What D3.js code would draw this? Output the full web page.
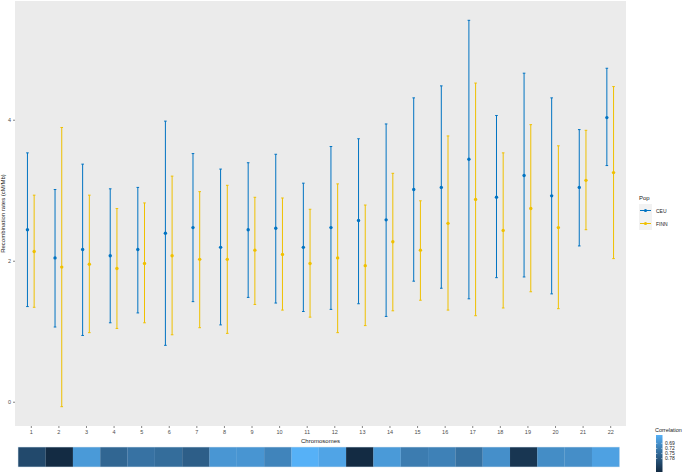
<!DOCTYPE html>
<html>
<head>
<meta charset="utf-8">
<script src="https://cdn.jsdelivr.net/npm/d3@7/dist/d3.min.js"></script>
<style>
  html, body { margin: 0; padding: 0; background: #ffffff; }
  svg { display: block; font-family: "Liberation Sans", Arial, sans-serif; }
</style>
</head>
<body>
<div id="chart"></div>
<script>
// ---------------- data ----------------
const chromosomes = ["1","2","3","4","5","6","7","8","9","10","11","12","13","14","15","16","17","18","19","20","21","22"];
const populations = ["CEU", "FINN"];

const ceuMean  = [2.44, 2.04, 2.16, 2.07, 2.16, 2.39, 2.47, 2.19, 2.44, 2.46, 2.19, 2.47, 2.57, 2.58, 3.01, 3.04, 3.44, 2.90, 3.21, 2.92, 3.04, 4.03];
const ceuLow   = [1.35, 1.06, 0.94, 1.12, 1.26, 0.80, 1.42, 1.09, 1.48, 1.40, 1.28, 1.31, 1.39, 1.21, 1.71, 1.61, 1.46, 1.76, 1.77, 1.53, 2.21, 3.35];
const ceuHigh  = [3.53, 3.01, 3.37, 3.02, 3.04, 3.98, 3.52, 3.30, 3.39, 3.51, 3.10, 3.62, 3.73, 3.94, 4.31, 4.48, 5.41, 4.06, 4.66, 4.31, 3.86, 4.73];

const finnMean = [2.13, 1.91, 1.95, 1.89, 1.96, 2.07, 2.02, 2.02, 2.15, 2.09, 1.96, 2.04, 1.93, 2.27, 2.15, 2.53, 2.87, 2.43, 2.74, 2.47, 3.14, 3.25];
const finnLow  = [1.34, -0.07, 0.98, 1.04, 1.12, 0.95, 1.05, 0.97, 1.38, 1.30, 1.20, 0.98, 1.08, 1.29, 1.44, 1.30, 1.22, 1.33, 1.56, 1.32, 2.44, 2.03];
const finnHigh = [2.93, 3.89, 2.93, 2.74, 2.82, 3.20, 2.98, 3.07, 2.90, 2.89, 2.73, 3.09, 2.79, 3.24, 2.85, 3.77, 4.52, 3.53, 3.93, 3.63, 3.85, 4.47];

const correlation = [0.805, 0.860, 0.675, 0.757, 0.737, 0.746, 0.770, 0.680, 0.682, 0.708, 0.640, 0.659, 0.860, 0.675, 0.721, 0.713, 0.739, 0.691, 0.840, 0.695, 0.693, 0.664];

const yTicks = [0, 2, 4];
const corrTicks = [0.69, 0.72, 0.75, 0.78];

// ---------------- build rows ----------------
const rows = [];
chromosomes.forEach((c, i) => {
  rows.push({chr: c, pop: "CEU",  mean: ceuMean[i],  low: ceuLow[i],  high: ceuHigh[i]});
  rows.push({chr: c, pop: "FINN", mean: finnMean[i], low: finnLow[i], high: finnHigh[i]});
});

// ---------------- layout ----------------
const W = 685, H = 474;
const panel = {left: 15, right: 626, top: 1, bottom: 426};

const svg = d3.select("#chart").append("svg").attr("width", W).attr("height", H);

const x = d3.scaleBand().domain(chromosomes)
  .range([panel.left, panel.right]).paddingOuter(0.1).paddingInner(0);
// ggplot discrete expansion of 0.6 units each side
const step = (panel.right - panel.left) / (chromosomes.length + 1.2);
const xc = d3.scalePoint().domain(chromosomes)
  .range([panel.left + 0.6 * step, panel.right - 0.6 * step]);

const yExtent = [d3.min([...ceuLow, ...finnLow]), d3.max([...ceuHigh, ...finnHigh])];
const pad = (yExtent[1] - yExtent[0]) * 0.05;
const y = d3.scaleLinear().domain([yExtent[0] - pad, yExtent[1] + pad]).range([panel.bottom, panel.top]);

const dodge = d3.scalePoint().domain(populations).range([-3.35, 3.35]);
const color = d3.scaleOrdinal().domain(populations).range(["#0073C2", "#EFC000"]);

// panel background
svg.append("rect")
  .attr("x", panel.left).attr("y", panel.top)
  .attr("width", panel.right - panel.left).attr("height", panel.bottom - panel.top)
  .attr("fill", "#EBEBEB");

// ---------------- axes ----------------
const yAxis = d3.axisLeft(y).tickValues(yTicks).tickSize(2).tickPadding(2).tickFormat(d3.format("d"));
const gy = svg.append("g").attr("transform", `translate(${panel.left},0)`).call(yAxis);
gy.select(".domain").remove();
gy.selectAll(".tick line").attr("stroke", "#333333").attr("stroke-width", 0.6);
gy.selectAll(".tick text").attr("fill", "#4d4d4d").attr("font-size", 5.5);

const xAxis = d3.axisBottom(xc).tickSize(2).tickPadding(2);
const gx = svg.append("g").attr("transform", `translate(0,${panel.bottom})`).call(xAxis);
gx.select(".domain").remove();
gx.selectAll(".tick line").attr("stroke", "#333333").attr("stroke-width", 0.6);
gx.selectAll(".tick text").attr("fill", "#4d4d4d").attr("font-size", 5.5);

svg.append("text")
  .attr("x", (panel.left + panel.right) / 2).attr("y", 443)
  .attr("text-anchor", "middle").attr("font-size", 6).attr("fill", "#222")
  .text("Chromosomes");

svg.append("text")
  .attr("transform", `translate(5,${(panel.top + panel.bottom) / 2}) rotate(-90)`)
  .attr("text-anchor", "middle").attr("font-size", 6).attr("fill", "#222")
  .text("Recombination rates (cM/Mb)");

// ---------------- error bars ----------------
const capW = 1.3;
const g = svg.append("g");
const eb = g.selectAll("g.eb").data(rows).join("g").attr("class", "eb");
const cx = d => xc(d.chr) + dodge(d.pop);
eb.append("line")
  .attr("x1", cx).attr("x2", cx)
  .attr("y1", d => y(d.low)).attr("y2", d => y(d.high))
  .attr("stroke", d => color(d.pop)).attr("stroke-width", 1);
eb.append("line")
  .attr("x1", d => cx(d) - capW).attr("x2", d => cx(d) + capW)
  .attr("y1", d => y(d.high)).attr("y2", d => y(d.high))
  .attr("stroke", d => color(d.pop)).attr("stroke-width", 1);
eb.append("line")
  .attr("x1", d => cx(d) - capW).attr("x2", d => cx(d) + capW)
  .attr("y1", d => y(d.low)).attr("y2", d => y(d.low))
  .attr("stroke", d => color(d.pop)).attr("stroke-width", 1);
eb.append("circle")
  .attr("cx", cx).attr("cy", d => y(d.mean)).attr("r", 1.7)
  .attr("fill", d => color(d.pop));

// ---------------- legend: Pop ----------------
const lg = svg.append("g");
lg.append("text").attr("x", 639).attr("y", 200).attr("font-size", 6).attr("fill", "#222").text("Pop");
populations.forEach((p, i) => {
  const ky = 204 + i * 13;
  lg.append("rect").attr("x", 639).attr("y", ky).attr("width", 13).attr("height", 13).attr("fill", "#F2F2F2");
  lg.append("line").attr("x1", 640).attr("x2", 651).attr("y1", ky + 6.5).attr("y2", ky + 6.5)
    .attr("stroke", color(p)).attr("stroke-width", 1);
  lg.append("circle").attr("cx", 645.5).attr("cy", ky + 6.5).attr("r", 1.6).attr("fill", color(p));
  lg.append("text").attr("x", 656).attr("y", ky + 8.5).attr("font-size", 5).attr("fill", "#222").text(p);
});

// ---------------- correlation strip ----------------
const corrDomain = [0.64, 0.86];
const corrColor = d3.scaleLinear().domain(corrDomain).range(["#56B1F7", "#132B43"]).interpolate(d3.interpolateLab);

const strip = {left: 18.3, right: 619.3, top: 447.3, bottom: 466.7};
const xs = d3.scaleBand().domain(chromosomes).range([strip.left, strip.right]);
svg.append("rect")
  .attr("x", strip.left - 0.5).attr("y", strip.top - 0.5)
  .attr("width", strip.right - strip.left + 1).attr("height", strip.bottom - strip.top + 1)
  .attr("fill", "#cfe0ef");
svg.append("g").selectAll("rect").data(chromosomes).join("rect")
  .attr("x", d => xs(d)).attr("y", strip.top)
  .attr("width", xs.bandwidth()).attr("height", strip.bottom - strip.top)
  .attr("fill", (d, i) => corrColor(correlation[i]));

// ---------------- legend: Correlation ----------------
const cb = {x: 656, w: 6.5, top: 435, bottom: 472};
svg.append("text").attr("x", 655).attr("y", 432).attr("font-size", 5.5).attr("fill", "#222").text("Correlation");
const defs = svg.append("defs");
const grad = defs.append("linearGradient").attr("id", "cgrad").attr("x1", 0).attr("x2", 0).attr("y1", 0).attr("y2", 1);
d3.range(0, 1.0001, 0.1).forEach(t => {
  grad.append("stop").attr("offset", t).attr("stop-color", corrColor(corrDomain[0] + t * (corrDomain[1] - corrDomain[0])));
});
svg.append("rect").attr("x", cb.x).attr("y", cb.top).attr("width", cb.w).attr("height", cb.bottom - cb.top)
  .attr("fill", "url(#cgrad)");
const cy = d3.scaleLinear().domain(corrDomain).range([cb.top, cb.bottom]);
const cg = svg.append("g");
corrTicks.forEach(v => {
  cg.append("line").attr("x1", cb.x).attr("x2", cb.x + 1.3).attr("y1", cy(v)).attr("y2", cy(v)).attr("stroke", "#fff").attr("stroke-width", 0.5);
  cg.append("line").attr("x1", cb.x + cb.w - 1.3).attr("x2", cb.x + cb.w).attr("y1", cy(v)).attr("y2", cy(v)).attr("stroke", "#fff").attr("stroke-width", 0.5);
  cg.append("text").attr("x", cb.x + cb.w + 2.5).attr("y", cy(v) + 1.8).attr("font-size", 5).attr("fill", "#222").text(v.toFixed(2));
});
</script>
</body>
</html>
